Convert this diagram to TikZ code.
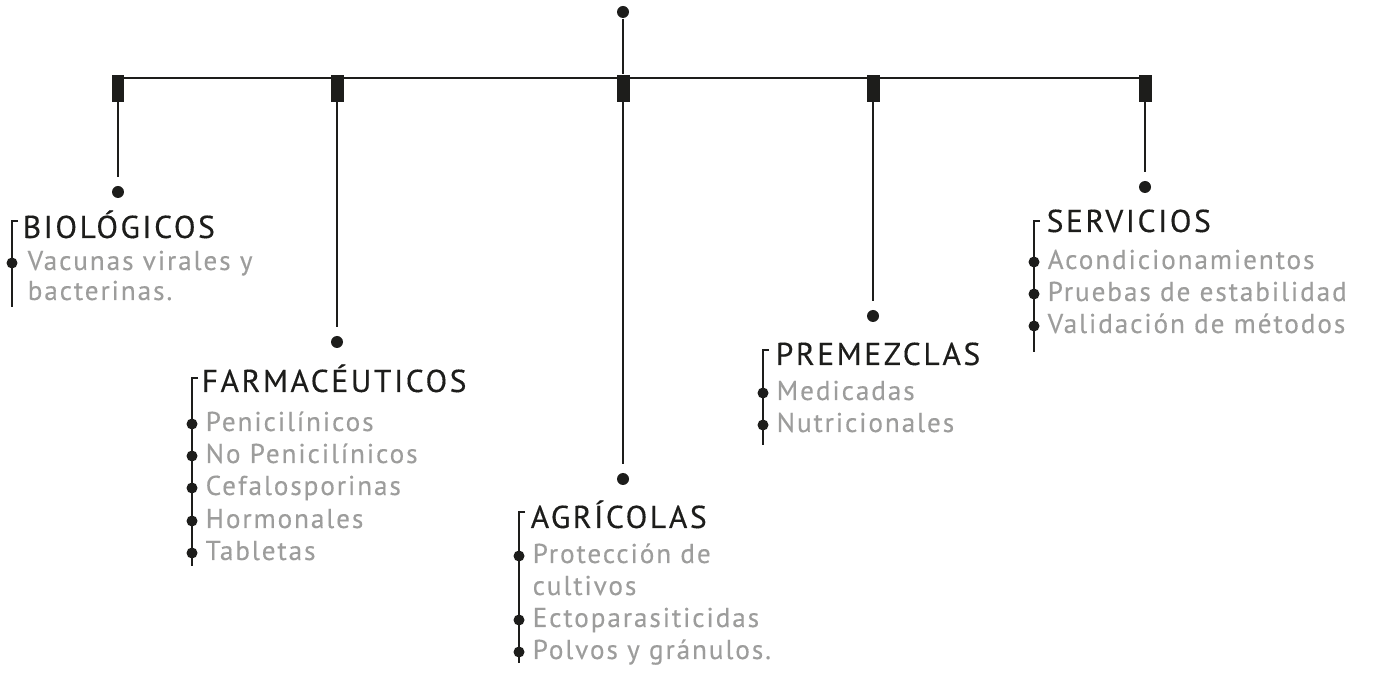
\documentclass[tikz,border=0pt]{standalone}
\usepackage{fontspec}
\setmainfont{PT Sans}
\newfontfamily\spaced[LetterSpace=8,FakeBold=0.3]{PT Sans}
\newfontfamily\spacedsm[LetterSpace=7,FakeBold=0.3]{PT Sans}
\usetikzlibrary{positioning}
\definecolor{ink}{HTML}{1D1D1B}
\definecolor{soft}{HTML}{9D9D9C}

\begin{document}
\begin{tikzpicture}[x=0.02cm, y=-0.02cm, line width=0.8pt, color=ink,
    dot/.style={circle, fill=ink, inner sep=0pt, minimum size=0.24cm},
    smalldot/.style={circle, fill=ink, inner sep=0pt, minimum size=0.22cm},
    block/.style={rectangle, fill=ink, inner sep=0pt, minimum width=0.26cm, minimum height=0.54cm, anchor=north},
    title/.style={anchor=base west, inner sep=0pt, text=ink, font=\spaced\fontsize{18}{20}\selectfont},
    item/.style={anchor=base west, inner sep=0pt, text=soft, font=\spacedsm\fontsize{15.5}{17}\selectfont}]
  \useasboundingbox (0,0) rectangle (1374,675);

  % trunk and bar
  \node[dot] (root) at (623,12) {};
  \coordinate (barL) at (118,78);
  \coordinate (barR) at (1145,78);
  \draw (barL) -- (barR);
  \node[block] (b1) at (118,74) {};
  \node[block] (b2) at (337,74) {};
  \node[block] (b3) at (623,74) {};
  \node[block] (b4) at (873,74) {};
  \node[block] (b5) at (1145,74) {};
  \draw (root) -- (b3.north);

  % drops
  \node[dot] (d1) at (118,192) {};
  \node[dot] (d2) at (337,342) {};
  \node[dot] (d3) at (623,479) {};
  \node[dot] (d4) at (873,316) {};
  \node[dot] (d5) at (1145,187) {};
  \draw[shorten >=5pt] (b1.south) -- (d1);
  \draw[shorten >=5pt] (b2.south) -- (d2);
  \draw[shorten >=5pt] (b3.south) -- (d3);
  \draw[shorten >=5pt] (b4.south) -- (d4);
  \draw[shorten >=5pt] (b5.south) -- (d5);

  % biologicos
  \coordinate (bioTop) at (12,221);
  \coordinate (bioEnd) at (12,307);
  \draw (bioTop) ++(6,0) -- (bioTop) -- (bioEnd);
  \node[title] (bio) at (22,238) {BIOLÓGICOS};
  \node[smalldot] (bio1) at (12,263) {};
  \node[item] (bioA) at (27,270) {Vacunas virales y};
  \node[item] (bioB) at (27,300) {bacterinas.};

  % farmaceuticos
  \coordinate (farTop) at (192,378);
  \coordinate (farEnd) at (192,566);
  \draw (farTop) ++(6,0) -- (farTop) -- (farEnd);
  \node[title] (far) at (201,392) {FARMACÉUTICOS};
  \node[smalldot] (far1) at (192,424) {};
  \node[smalldot] (far2) at (192,456) {};
  \node[smalldot] (far3) at (192,488) {};
  \node[smalldot] (far4) at (192,521) {};
  \node[smalldot] (far5) at (192,553) {};
  \node[item] (farA) at (205,431) {Penicilínicos};
  \node[item] (farB) at (205,463) {No Penicilínicos};
  \node[item] (farC) at (205,495) {Cefalosporinas};
  \node[item] (farD) at (205,528) {Hormonales};
  \node[item] (farE) at (205,560) {Tabletas};

  % agricolas
  \coordinate (agrTop) at (519,512);
  \coordinate (agrEnd) at (519,663);
  \draw (agrTop) ++(6,0) -- (agrTop) -- (agrEnd);
  \node[title] (agr) at (530,528) {AGRÍCOLAS};
  \node[smalldot] (agr1) at (519,556) {};
  \node[smalldot] (agr2) at (519,620) {};
  \node[smalldot] (agr3) at (519,652) {};
  \node[item] (agrA) at (532,563) {Protección de};
  \node[item] (agrB) at (532,595) {cultivos};
  \node[item] (agrC) at (532,627) {Ectoparasiticidas};
  \node[item] (agrD) at (532,659) {Polvos y gránulos.};

  % premezclas
  \coordinate (preTop) at (763,350);
  \coordinate (preEnd) at (763,445);
  \draw (preTop) ++(6,0) -- (preTop) -- (preEnd);
  \node[title] (pre) at (775,365) {PREMEZCLAS};
  \node[smalldot] (pre1) at (763,393) {};
  \node[smalldot] (pre2) at (763,425) {};
  \node[item] (preA) at (776,400) {Medicadas};
  \node[item] (preB) at (776,432) {Nutricionales};

  % servicios
  \coordinate (serTop) at (1034,221);
  \coordinate (serEnd) at (1034,352);
  \draw (serTop) ++(6,0) -- (serTop) -- (serEnd);
  \node[title] (ser) at (1046,232) {SERVICIOS};
  \node[smalldot] (ser1) at (1034,262) {};
  \node[smalldot] (ser2) at (1034,294) {};
  \node[smalldot] (ser3) at (1034,326) {};
  \node[item] (serA) at (1047,269) {Acondicionamientos};
  \node[item] (serB) at (1047,301) {Pruebas de estabilidad};
  \node[item] (serC) at (1047,333) {Validación de métodos};
\end{tikzpicture}
\end{document}
